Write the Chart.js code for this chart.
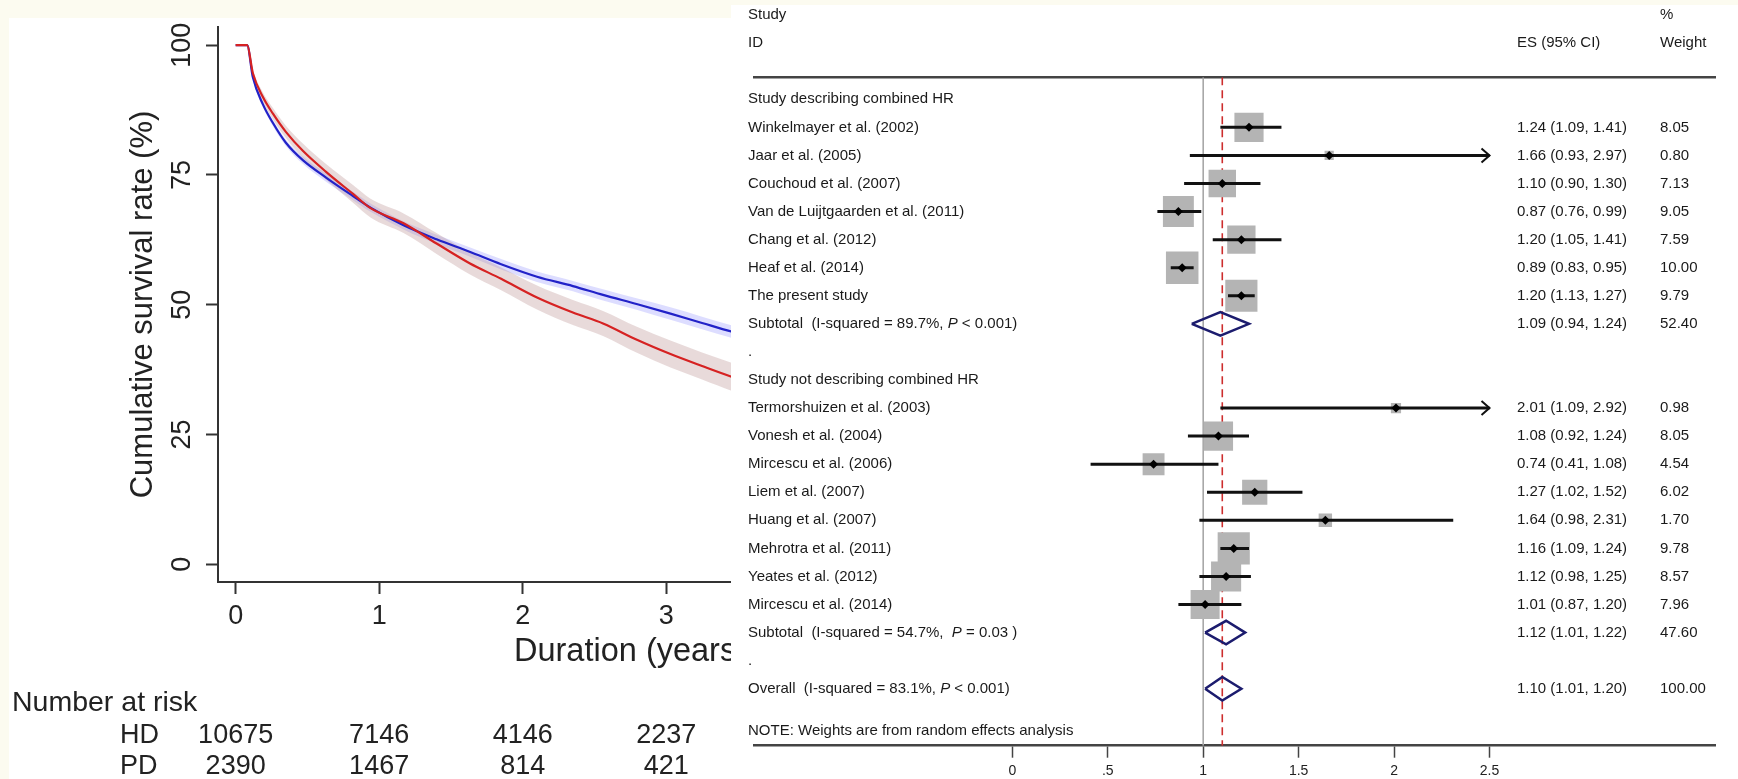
<!DOCTYPE html>
<html>
<head>
<meta charset="utf-8">
<script src="https://cdn.jsdelivr.net/npm/chart.js@4.4.1/dist/chart.umd.min.js"></script>
<style>
  html, body { margin: 0; padding: 0; width: 1738px; height: 779px; overflow: hidden; background: #fcfbf0; }
  #kmPanel { position: absolute; left: 9px; top: 18px; width: 726px; height: 761px; background: #fff; }
  #kmChart { position: absolute; left: 0; top: 0; }
  #forestChart { position: absolute; left: 731px; top: 5px; background: #fff; }
</style>
</head>
<body>
<div id="kmPanel"></div>
<canvas id="kmChart" width="1100" height="779"></canvas>
<canvas id="forestChart" width="1007" height="774"></canvas>
<script>
// ---- Kaplan-Meier panel ----
const kmTimes  = [0, 0.08, 0.12, 0.19, 0.26, 0.35, 0.47, 0.63, 0.82, 0.94, 1.17, 1.4, 1.63, 1.85, 2.1, 2.35, 2.56, 2.8, 3.03, 3.25, 3.46, 3.6];
const hdSurv   = [100, 100, 93.8, 88.6, 85.0, 81.2, 77.8, 74.5, 70.9, 68.7, 65.3, 62.6, 60.2, 57.8, 55.4, 53.6, 51.9, 50.1, 48.3, 46.5, 44.8, 43.8];
const hdLower  = [100, 100, 93.4, 88.1, 84.4, 80.6, 77.1, 73.7, 70.1, 67.9, 64.5, 61.7, 59.3, 56.8, 54.4, 52.6, 50.8, 49.0, 47.1, 45.3, 43.6, 42.6];
const hdUpper  = [100, 100, 94.2, 89.1, 85.6, 81.8, 78.5, 75.3, 71.7, 69.5, 66.1, 63.5, 61.1, 58.8, 56.4, 54.6, 53.0, 51.2, 49.5, 47.7, 46.0, 45.0];
const pdSurv   = [100, 100, 94.6, 90.0, 86.8, 83.3, 79.6, 75.6, 71.3, 68.6, 65.7, 61.8, 58.0, 55.0, 51.4, 48.5, 46.4, 43.2, 40.5, 38.2, 36.1, 34.9];
const pdLower  = [100, 100, 94.0, 89.1, 85.7, 82.1, 78.2, 74.1, 69.6, 66.8, 63.8, 59.8, 55.9, 52.8, 49.1, 46.1, 44.0, 40.7, 37.9, 35.6, 33.4, 32.2];
const pdUpper  = [100, 100, 95.2, 90.9, 87.9, 84.5, 81.0, 77.1, 73.0, 70.4, 67.6, 63.8, 60.1, 57.2, 53.7, 50.9, 48.8, 45.7, 43.1, 40.8, 38.8, 37.6];
const kmXTicks = [0, 1, 2, 3, 4, 5];
const kmYTicks = [0, 25, 50, 75, 100];
const riskTimes = [0, 1, 2, 3];
const hdRisk   = [10675, 7146, 4146, 2237];
const pdRisk   = [2390, 1467, 814, 421];

// ---- Forest plot panel ----
const rowLabels = [
  'Study describing combined HR',
  'Winkelmayer et al. (2002)',
  'Jaar et al. (2005)',
  'Couchoud et al. (2007)',
  'Van de Luijtgaarden et al. (2011)',
  'Chang et al. (2012)',
  'Heaf et al. (2014)',
  'The present study',
  'Subtotal  (I-squared = 89.7%, P < 0.001)',
  '.',
  'Study not describing combined HR',
  'Termorshuizen et al. (2003)',
  'Vonesh et al. (2004)',
  'Mircescu et al. (2006)',
  'Liem et al. (2007)',
  'Huang et al. (2007)',
  'Mehrotra et al. (2011)',
  'Yeates et al. (2012)',
  'Mircescu et al. (2014)',
  'Subtotal  (I-squared = 54.7%,  P = 0.03 )',
  '.',
  'Overall  (I-squared = 83.1%, P < 0.001)'
];
const studyRow    = [1, 2, 3, 4, 5, 6, 7, 11, 12, 13, 14, 15, 16, 17, 18];
const studyES     = [1.24, 1.66, 1.10, 0.87, 1.20, 0.89, 1.20, 2.01, 1.08, 0.74, 1.27, 1.64, 1.16, 1.12, 1.01];
const studyLo     = [1.09, 0.93, 0.90, 0.76, 1.05, 0.83, 1.13, 1.09, 0.92, 0.41, 1.02, 0.98, 1.09, 0.98, 0.87];
const studyHi     = [1.41, 2.97, 1.30, 0.99, 1.41, 0.95, 1.27, 2.92, 1.24, 1.08, 1.52, 2.31, 1.24, 1.25, 1.20];
const studyWeight = [8.05, 0.80, 7.13, 9.05, 7.59, 10.00, 9.79, 0.98, 8.05, 4.54, 6.02, 1.70, 9.78, 8.57, 7.96];
const pooledRow    = [8, 19, 21];
const pooledES     = [1.09, 1.12, 1.10];
const pooledLo     = [0.94, 1.01, 1.01];
const pooledHi     = [1.24, 1.22, 1.20];
const pooledWeight = [52.40, 47.60, 100.00];
const forestTicks = [0, 0.5, 1, 1.5, 2, 2.5];
const forestTickLabels = ['0', '.5', '1', '1.5', '2', '2.5'];
const noteText = 'NOTE: Weights are from random effects analysis';

const FONT = '"Liberation Sans", Arial, sans-serif';
const forestMax = 2.5;          // CIs past this get an arrow
const rowTop = -0.784, rowBottom = 23.03;

const pts = (xs, ys) => xs.map((x, i) => ({ x: x, y: ys[i] }));

// km y tick labels are rotated, plus the risk table under the plot
const kmText = {
  id: 'kmText',
  afterDraw(chart) {
    const { ctx, scales: { x, y } } = chart;
    ctx.save();
    ctx.fillStyle = '#222';
    ctx.font = '27px ' + FONT;
    ctx.textAlign = 'center';
    ctx.textBaseline = 'middle';
    kmYTicks.forEach(v => {
      ctx.save();
      ctx.translate(183, y.getPixelForValue(v));
      ctx.rotate(-Math.PI / 2);
      ctx.fillText(String(v), 0, 0);
      ctx.restore();
    });
    ctx.font = '28.5px ' + FONT;
    ctx.textAlign = 'left';
    ctx.fillText('Number at risk', 12, 703);
    ctx.font = '27px ' + FONT;
    ctx.fillText('HD', 120, 736);
    ctx.fillText('PD', 120, 767);
    ctx.textAlign = 'center';
    riskTimes.forEach((t, i) => {
      const px = x.getPixelForValue(t);
      ctx.fillText(String(hdRisk[i]), px, 736);
      ctx.fillText(String(pdRisk[i]), px, 767);
    });
    ctx.restore();
  }
};

new Chart(document.getElementById('kmChart'), {
  type: 'line',
  data: {
    datasets: [
      { data: pts(kmTimes, pdSurv), borderColor: 'rgb(214,34,34)', borderWidth: 2.2, pointRadius: 0, cubicInterpolationMode: 'monotone', order: 0 },
      { data: pts(kmTimes, hdSurv), borderColor: 'rgb(34,34,200)', borderWidth: 2.2, pointRadius: 0, cubicInterpolationMode: 'monotone', order: 1 },
      { data: pts(kmTimes, pdLower), borderWidth: 0, pointRadius: 0, cubicInterpolationMode: 'monotone', fill: false, order: 2 },
      { data: pts(kmTimes, pdUpper), borderWidth: 0, pointRadius: 0, cubicInterpolationMode: 'monotone', fill: '-1', backgroundColor: 'rgba(190,150,150,0.35)', order: 2 },
      { data: pts(kmTimes, hdLower), borderWidth: 0, pointRadius: 0, cubicInterpolationMode: 'monotone', fill: false, order: 3 },
      { data: pts(kmTimes, hdUpper), borderWidth: 0, pointRadius: 0, cubicInterpolationMode: 'monotone', fill: '-1', backgroundColor: 'rgba(120,120,255,0.25)', order: 3 }
    ]
  },
  options: {
    responsive: false,
    animation: false,
    events: [],
    layout: { padding: { top: 27, left: 0, right: 57, bottom: 107 } },
    plugins: { legend: { display: false }, tooltip: { enabled: false } },
    scales: {
      x: {
        type: 'linear', min: -0.123, max: 5.626,
        afterBuildTicks: s => { s.ticks = kmXTicks.map(v => ({ value: v })); },
        afterFit: s => { s.height = 90; },
        ticks: { color: '#222', font: { size: 27, family: FONT }, padding: 6, maxRotation: 0, autoSkip: false },
        grid: { display: true, drawOnChartArea: false, drawTicks: true, tickLength: 12, tickColor: '#333', tickWidth: 2 },
        border: { display: true, color: '#333', width: 2 },
        title: { display: true, text: 'Duration (years)', color: '#222', font: { size: 32.5, family: FONT }, padding: { top: 0, bottom: 0 } }
      },
      y: {
        type: 'linear', min: -3.4, max: 103.5,
        afterBuildTicks: s => { s.ticks = kmYTicks.map(v => ({ value: v })); },
        afterFit: s => { s.width = 218; },
        ticks: { display: false },
        grid: { display: true, drawOnChartArea: false, drawTicks: true, tickLength: 12, tickColor: '#333', tickWidth: 2 },
        border: { display: true, color: '#333', width: 2 },
        title: { display: true, text: 'Cumulative survival rate (%)', color: '#222', font: { size: 31, family: FONT }, padding: { top: 125, bottom: 0 } }
      }
    }
  },
  plugins: [kmText]
});

// ---- forest plot ----
const boxRadius = w => 7.27 * Math.sqrt(w);

function drawRich(ctx, text, x, y) {
  let cx = x;
  text.split(/(\bP\b)/).forEach(part => {
    ctx.font = (part === 'P' ? 'italic ' : '') + '15px ' + FONT;
    ctx.fillText(part, cx, y);
    cx += ctx.measureText(part).width;
  });
}

const forestText = {
  id: 'forestText',
  afterDraw(chart) {
    const { ctx, scales: { y } } = chart;
    const esCol = 786, wCol = 929, nameCol = 17;
    ctx.save();
    ctx.fillStyle = '#1a1a1a';
    ctx.textAlign = 'left';
    ctx.textBaseline = 'middle';
    ctx.font = '15px ' + FONT;
    ctx.fillText('Study', nameCol, y.getPixelForValue(-3));
    ctx.fillText('%', wCol, y.getPixelForValue(-3));
    ctx.fillText('ID', nameCol, y.getPixelForValue(-2));
    ctx.fillText('ES (95% CI)', esCol, y.getPixelForValue(-2));
    ctx.fillText('Weight', wCol, y.getPixelForValue(-2));
    rowLabels.forEach((lab, r) => drawRich(ctx, lab, nameCol, y.getPixelForValue(r)));
    ctx.font = '15px ' + FONT;
    const esStr = (e, l, h) => e.toFixed(2) + ' (' + l.toFixed(2) + ', ' + h.toFixed(2) + ')';
    studyRow.forEach((r, i) => {
      const py = y.getPixelForValue(r);
      ctx.fillText(esStr(studyES[i], studyLo[i], studyHi[i]), esCol, py);
      ctx.fillText(studyWeight[i].toFixed(2), wCol, py);
    });
    pooledRow.forEach((r, i) => {
      const py = y.getPixelForValue(r);
      ctx.fillText(esStr(pooledES[i], pooledLo[i], pooledHi[i]), esCol, py);
      ctx.fillText(pooledWeight[i].toFixed(2), wCol, py);
    });
    ctx.fillText(noteText, nameCol, y.getPixelForValue(22.5));
    ctx.restore();
  },
  afterDatasetsDraw(chart) {
    // open arrow heads where the CI runs off the axis
    const { ctx, scales: { x, y } } = chart;
    ctx.save();
    ctx.strokeStyle = '#111';
    ctx.lineWidth = 2;
    studyRow.forEach((r, i) => {
      if (studyHi[i] <= forestMax) return;
      const px = x.getPixelForValue(forestMax), py = y.getPixelForValue(r);
      ctx.beginPath();
      ctx.moveTo(px - 8, py - 7);
      ctx.lineTo(px, py);
      ctx.lineTo(px - 8, py + 7);
      ctx.stroke();
    });
    ctx.restore();
  }
};

const ciPoints = studyRow.flatMap((r, i) => [
  { x: studyLo[i], y: r }, { x: Math.min(studyHi[i], forestMax), y: r }, { x: studyLo[i], y: null }
]);
const diamondPoints = pooledRow.flatMap((r, i) => [
  { x: pooledLo[i], y: r }, { x: pooledES[i], y: r - 0.42 }, { x: pooledHi[i], y: r },
  { x: pooledES[i], y: r + 0.42 }, { x: pooledLo[i], y: r }, { x: pooledLo[i], y: null }
]);

new Chart(document.getElementById('forestChart'), {
  type: 'scatter',
  data: {
    datasets: [
      { data: pts(studyES, studyRow), pointStyle: 'rectRot', pointRadius: 4.5, backgroundColor: '#000', borderWidth: 0, order: 0 },
      { data: diamondPoints, showLine: true, spanGaps: false, borderColor: 'rgb(28,28,110)', borderWidth: 2.5, borderJoinStyle: 'miter', pointRadius: 0, order: 1 },
      { data: ciPoints, showLine: true, spanGaps: false, borderColor: '#111', borderWidth: 3, pointRadius: 0, order: 1 },
      { data: pts(studyES, studyRow), pointStyle: 'rect', pointRadius: c => boxRadius(studyWeight[c.dataIndex]), backgroundColor: '#b4b4b4', borderWidth: 0, order: 2 },
      { data: [{ x: pooledES[2], y: rowTop }, { x: pooledES[2], y: rowBottom }], showLine: true, borderColor: 'rgb(205,45,45)', borderWidth: 1.6, borderDash: [8, 5], pointRadius: 0, order: 3 },
      { data: [{ x: 1, y: rowTop }, { x: 1, y: rowBottom }], showLine: true, borderColor: '#a8a8a8', borderWidth: 1.6, pointRadius: 0, order: 4 }
    ]
  },
  options: {
    responsive: false,
    animation: false,
    events: [],
    layout: { padding: { top: 72.3, left: 0, right: 0, bottom: 0 } },
    plugins: { legend: { display: false }, tooltip: { enabled: false } },
    scales: {
      x: {
        type: 'linear', position: 'bottom', min: -1.3535, max: 3.6815,
        afterBuildTicks: s => { s.ticks = forestTicks.map(v => ({ value: v })); },
        afterFit: s => { s.height = 33.3; },
        ticks: { callback: (v, i) => forestTickLabels[i], color: '#222', font: { size: 14, family: FONT }, padding: 5, maxRotation: 0, autoSkip: false },
        grid: { display: true, drawOnChartArea: false, drawTicks: true, tickLength: 12, tickColor: '#444', tickWidth: 1.5 },
        border: { display: true, color: '#444', width: 2.5 }
      },
      xTop: {
        type: 'linear', position: 'top', min: -1.3535, max: 3.6815,
        afterFit: s => { s.height = 0; },
        ticks: { display: false },
        grid: { display: false },
        border: { display: true, color: '#444', width: 2.5 }
      },
      y: { type: 'linear', display: false, reverse: true, min: rowTop, max: rowBottom }
    }
  },
  plugins: [forestText]
});
</script>
</body>
</html>
